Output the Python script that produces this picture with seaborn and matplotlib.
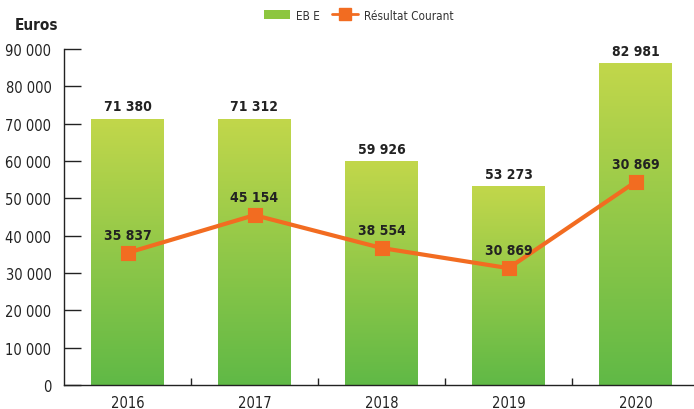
import numpy as np
import pandas as pd
import matplotlib
matplotlib.use("Agg")
import matplotlib.pyplot as plt
import seaborn as sns
from matplotlib.colors import LinearSegmentedColormap
from matplotlib.lines import Line2D
from matplotlib.patches import Patch

years = ["2016", "2017", "2018", "2019", "2020"]
ebe_values = [71380, 71312, 59926, 53273, 86200]
ebe_labels = ["71 380", "71 312", "59 926", "53 273", "82 981"]
rc_values = [35400, 45500, 36700, 31300, 54400]
rc_labels = ["35 837", "45 154", "38 554", "30 869", "30 869"]
yticks = [0, 10000, 20000, 30000, 40000, 50000, 60000, 70000, 80000, 90000]
ytick_labels = ["0", "10 000", "20 000", "30 000", "40 000", "50 000",
                "60 000", "70 000", "80 000", "90 000"]

sns.set_theme(style="white")
plt.rcParams["font.family"] = ["DejaVu Sans"]
plt.rcParams["font.stretch"] = "condensed"

df = pd.DataFrame({"year": years, "ebe": ebe_values, "rc": rc_values})

fig = plt.figure(figsize=(6.94, 4.10), dpi=100)
ax = fig.add_axes([64 / 694, 24 / 410, 635 / 694, 336 / 410])

sns.barplot(data=df, x="year", y="ebe", color="#8dc63f", width=0.567,
            saturation=1, ax=ax, zorder=2)

top_c = "#c2d74b"
bot_c = "#60b946"
cmap = LinearSegmentedColormap.from_list("g", [bot_c, top_c])
grad = np.linspace(0, 1, 256).reshape(-1, 1)
for p in list(ax.patches):
    x0, y0 = p.get_x(), p.get_y()
    w, h = p.get_width(), p.get_height()
    im = ax.imshow(grad, extent=[x0, x0 + w, y0, y0 + h], origin="lower",
                   cmap=cmap, aspect="auto", zorder=2.5)
    im.set_clip_path(p)
    p.set_facecolor("none")
    p.set_edgecolor("none")

orange = "#f26c21"
sns.pointplot(data=df, x="year", y="rc", color=orange, markers="s",
              markersize=8.5, linewidth=3, ax=ax, errorbar=None, zorder=4)

ax.set_xlim(-0.5, 4.5)
ax.set_ylim(0, 90000)

for i, (v, lab) in enumerate(zip(ebe_values, ebe_labels)):
    ax.annotate(lab, (i, v), xytext=(0, 4), textcoords="offset points",
                ha="center", va="bottom", fontsize=10, fontweight="bold",
                color="#222222", zorder=5)
for i, (v, lab) in enumerate(zip(rc_values, rc_labels)):
    ax.annotate(lab, (i, v), xytext=(0, 8), textcoords="offset points",
                ha="center", va="bottom", fontsize=10, fontweight="bold",
                color="#222222", zorder=5)

ax.set_yticks(yticks)
ax.set_yticklabels(ytick_labels)
ax.set_xlabel("")
ax.set_ylabel("")
ax.tick_params(axis="y", direction="in", length=12, width=1, color="#222222",
               labelsize=10.5, pad=9, labelcolor="#222222", left=True)
ax.set_xticks(range(len(years)))
ax.set_xticklabels(years)
ax.tick_params(axis="x", length=0, labelsize=10.5, pad=7, labelcolor="#222222")
ax.set_xticks([0.5, 1.5, 2.5, 3.5], minor=True)
ax.tick_params(axis="x", which="minor", direction="in", length=5, width=1,
               color="#222222", bottom=True)

for s in ["top", "right"]:
    ax.spines[s].set_visible(False)
for s in ["left", "bottom"]:
    ax.spines[s].set_color("#222222")
    ax.spines[s].set_linewidth(1)

fig.text(15 / 694, 1 - 25 / 410, "Euros", fontsize=11, fontweight="bold",
         color="#222222", va="center", ha="left")

handles = [Patch(facecolor="#8dc63f", edgecolor="none"),
           Line2D([0], [0], color=orange, lw=2, marker="s", markersize=8)]
fig.legend(handles, ["EB E", "Résultat Courant"], loc="center",
           bbox_to_anchor=(359 / 694, 1 - 16 / 410), ncol=2, frameon=False,
           fontsize=8.5, handlelength=2.2, handleheight=0.9, handletextpad=0.5,
           columnspacing=1.0, labelcolor="#333333")

fig.savefig("out.png", dpi=100)
